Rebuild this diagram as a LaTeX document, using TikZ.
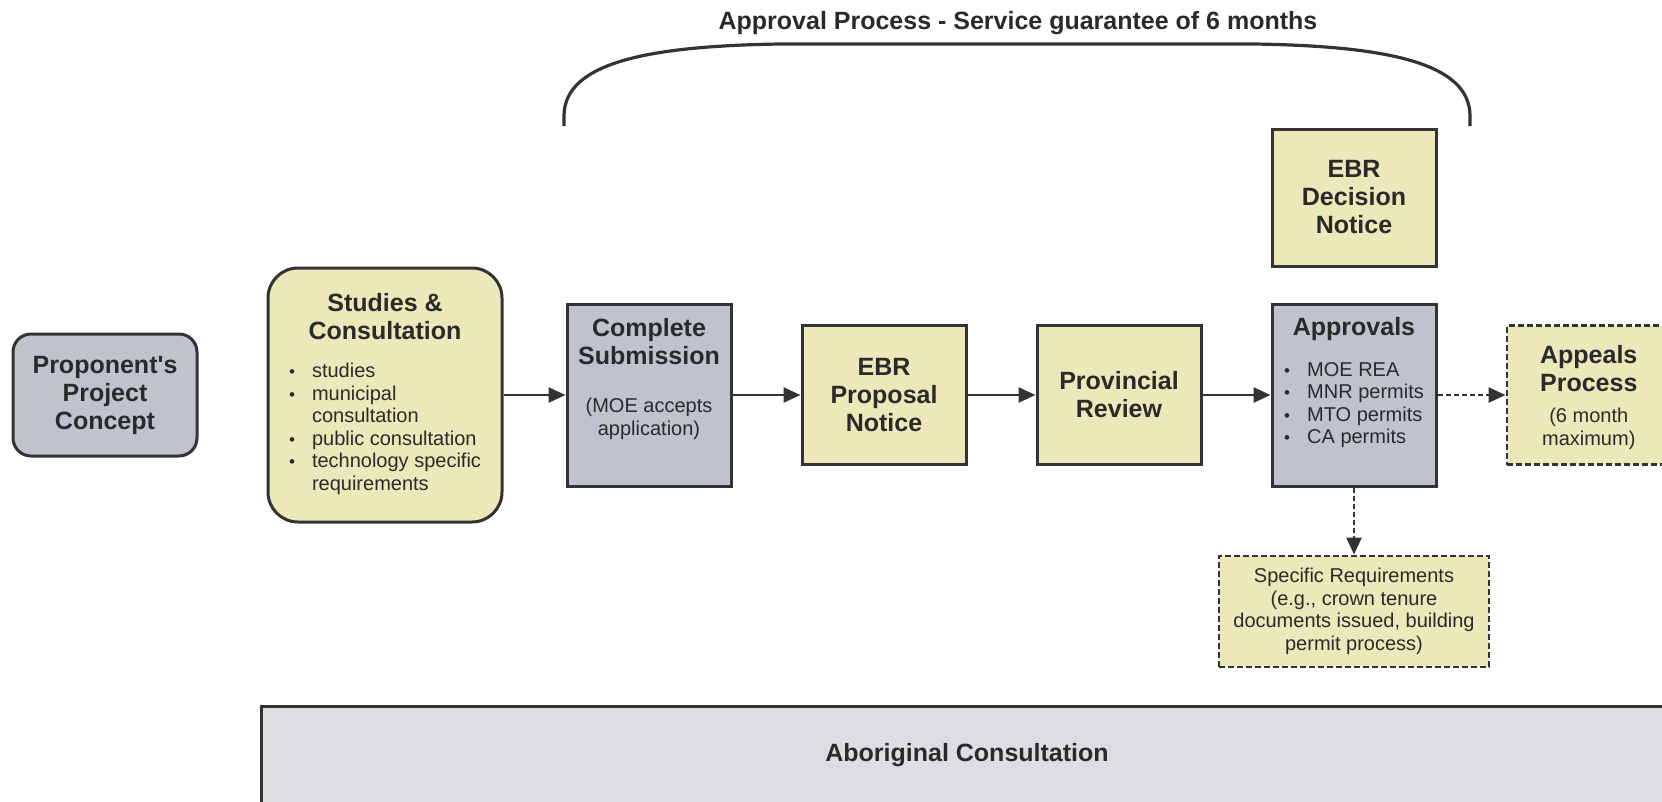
\documentclass[tikz,border=0pt]{standalone}
\usepackage{fontspec}
\setmainfont{Liberation Sans}
\usetikzlibrary{arrows.meta,positioning}

\definecolor{boxline}{HTML}{333333}
\definecolor{sand}{HTML}{ECE8B9}
\definecolor{slate}{HTML}{BEC3CD}
\definecolor{mist}{HTML}{DCDEE1}
\definecolor{ink}{HTML}{2A2A2A}

\newcommand{\hdfont}{\fontsize{25}{28}\selectfont\bfseries}
\newcommand{\txfont}{\fontsize{20}{22.5}\selectfont}
\newcommand{\bul}{\makebox[23pt][l]{\fontsize{17}{17}\selectfont\textbullet}}

\begin{document}
\begin{tikzpicture}[x=1pt, y=-1pt, node distance=68pt,
  panel/.style={draw=boxline, line width=3pt, inner sep=0pt, minimum width=164pt, text=ink},
  sandbox/.style={panel, fill=sand},
  slatebox/.style={panel, fill=slate},
  optbox/.style={sandbox, line width=2.5pt, dash pattern=on 6pt off 3pt},
  heading/.style={font=\hdfont, align=center, inner sep=0pt, text=ink},
  note/.style={font=\txfont, align=center, inner sep=0pt, text=ink},
  bullets/.style={font=\txfont, align=left, inner sep=0pt, text=ink},
  flow/.style={draw=boxline, line width=2.5pt, -{Triangle[length=17pt,width=15pt]}},
  optflow/.style={flow, dash pattern=on 5pt off 3pt}]

  \useasboundingbox (0,0) rectangle (1662,801);
  \clip (0,0) rectangle (1662,801);

  % main row
  \node[sandbox, minimum width=234pt, minimum height=254pt, rounded corners=30pt] (studies) at (385,395) {};
  \node[heading, below=27pt of studies.north] (studies-head) {Studies \&\\Consultation};
  \node[bullets, below=23pt of studies-head] (studies-list)
    {\bul studies\\\bul municipal\\\hspace*{23pt}consultation\\\bul public consultation\\\bul technology specific\\\hspace*{23pt}requirements};

  \node[slatebox, heading, minimum width=184pt, minimum height=122pt, rounded corners=18pt,
        left=of studies] (concept) {Proponent\textquotesingle s\\Project\\Concept};

  \node[slatebox, minimum height=182pt, right=62pt of studies] (submit) {};
  \node[heading, below=16pt of submit.north] (submit-head) {Complete\\Submission};
  \node[note, below=33pt of submit-head] (submit-note) {(MOE accepts\\application)};

  \node[sandbox, heading, minimum height=139pt, right=of submit] (proposal) {EBR\\Proposal\\Notice};
  \node[sandbox, heading, minimum height=139pt, right=of proposal] (review) {Provincial\\Review};

  \node[slatebox, minimum height=182pt, right=of review] (approvals) {};
  \node[heading, below=15pt of approvals.north] (approvals-head) {Approvals};
  \node[bullets, below=21pt of approvals-head] (approvals-list)
    {\bul MOE REA\\\bul MNR permits\\\bul MTO permits\\\bul CA permits};

  \node[sandbox, heading, minimum height=137pt, above=35pt of approvals] (decision) {EBR\\Decision\\Notice};

  \node[optbox, minimum height=139pt, right=of approvals] (appeals) {};
  \node[heading, below=21pt of appeals.north] (appeals-head) {Appeals\\Process};
  \node[note, below=16pt of appeals-head] (appeals-note) {(6 month\\maximum)};

  \node[optbox, note, minimum width=270pt, minimum height=111pt, below=67pt of approvals] (requirements)
    {Specific Requirements\\(e.g., crown tenure\\documents issued, building\\permit process)};

  % bottom band
  \node[panel, heading, fill=mist, minimum width=1412pt, minimum height=98pt] (aboriginal) at (967,755)
    {Aboriginal Consultation};

  % brace and title
  \node[heading] (title) at (1018,23) {Approval Process - Service guarantee of 6 months};
  \draw[draw=boxline, line width=3.2pt] (564,126) -- (564,116)
    .. controls (564,62) and (650,46) .. (780,44) -- (1254,44)
    .. controls (1384,46) and (1470,62) .. (1470,116) -- (1470,126);

  \draw[flow] (studies) -- (submit);
  \draw[flow] (submit) -- (proposal);
  \draw[flow] (proposal) -- (review);
  \draw[flow] (review) -- (approvals);
  \draw[optflow] (approvals) -- (appeals);
  \draw[optflow] (approvals) -- (requirements);
\end{tikzpicture}
\end{document}
